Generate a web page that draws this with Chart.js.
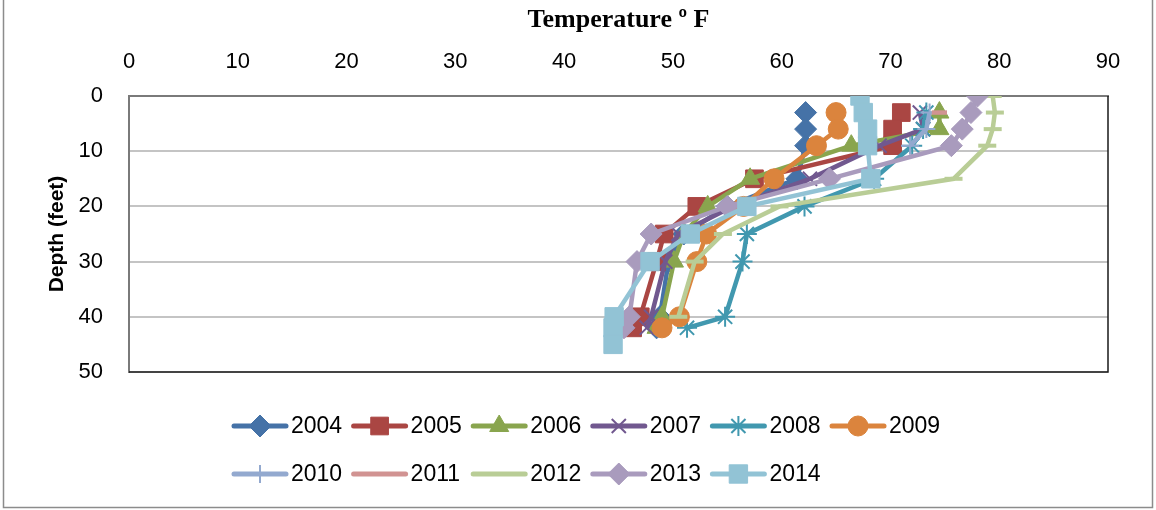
<!DOCTYPE html>
<html>
<head>
<meta charset="utf-8">
<script src="https://cdn.jsdelivr.net/npm/chart.js@4.4.1/dist/chart.umd.min.js"></script>
<style>
  html, body { margin: 0; padding: 0; background: #fff; }
  #wrap { width: 1156px; height: 510px; }
</style>
</head>
<body>
<div id="wrap"><canvas id="depthChart" width="1156" height="510"></canvas></div>
<script>
'use strict';
// temperature (deg F) readings at each depth (feet), one pair of lists per year
const years = ['2004', '2005', '2006', '2007', '2008', '2009', '2010', '2011', '2012', '2013', '2014'];

const depths2004 = [3, 6, 9, 15, 20, 25, 30, 40, 42];
const temps2004 = [62.2, 62.2, 62.2, 61.4, 55, 51, 49.6, 48.8, 48.5];
const depths2005 = [3, 6, 9, 15, 20, 25, 30, 40, 42];
const temps2005 = [71, 70.2, 70.2, 57.5, 52.2, 49.2, 48.5, 47, 46.3];
const depths2006 = [3, 6, 9, 15, 20, 25, 30, 40, 42];
const temps2006 = [74.5, 74.5, 66.4, 57.1, 53.2, 51, 50.1, 49, 48.5];
const depths2007 = [3, 6, 9, 15, 20, 25, 30, 40, 42];
const temps2007 = [72.7, 73, 69, 62.6, 55.5, 50.5, 49.3, 48, 47.6];
const depths2008 = [3, 6, 9, 15, 20, 25, 30, 40, 42];
const temps2008 = [73.3, 73, 72, 68.5, 62.1, 56.8, 56.4, 54.8, 51.3];
const depths2009 = [3, 6, 9, 15, 20, 25, 30, 40, 42];
const temps2009 = [65, 65.2, 63.2, 59.3, 56.5, 53.1, 52.2, 50.6, 49];
const depths2010 = [3, 6, 9];
const temps2010 = [73.6, 73.3, 71.8];
const depths2011 = [3, 3];
const temps2011 = [73.8, 75.2];
const depths2012 = [0, 3, 6, 9, 15, 20, 25, 30, 40];
const temps2012 = [79.4, 79.6, 79.4, 78.9, 75.8, 59.8, 54.6, 52, 50.5];
const depths2013 = [0, 3, 6, 9, 15, 20, 25, 30, 40, 42];
const temps2013 = [78, 77.4, 76.6, 75.6, 64.4, 55, 48, 46.7, 46, 45.5];
const depths2014 = [0, 3, 6, 9, 15, 20, 25, 30, 40, 42, 45];
const temps2014 = [67.2, 67.5, 67.9, 67.9, 68.2, 56.8, 51.6, 47.9, 44.6, 44.5, 44.5];

const xTicks = [0, 10, 20, 30, 40, 50, 60, 70, 80, 90];
const yTicks = [0, 10, 20, 30, 40, 50];

const allDepths = [depths2004, depths2005, depths2006, depths2007, depths2008, depths2009,
  depths2010, depths2011, depths2012, depths2013, depths2014];
const allTemps = [temps2004, temps2005, temps2006, temps2007, temps2008, temps2009,
  temps2010, temps2011, temps2012, temps2013, temps2014];

// excel 2007 style colours + markers
const colors = ['#4572A7', '#AA4643', '#89A54E', '#71588F', '#4198AF', '#DB843D',
  '#93A9CF', '#D19392', '#B9CD96', '#A99BBD', '#92C3D5'];
const markers = ['rectRot', 'rect', 'triangle', 'crossRot', 'star', 'circle',
  'cross', false, 'line', 'rectRot', 'rect'];
const radii = [11, 12.5, 11, 10, 10, 10, 9, 0, 9, 11, 13];
const markerBorder = [1, 1, 1, 2, 2, 1, 2, 0, 4, 1, 1];

const datasets = years.map((yr, i) => ({
  label: yr,
  data: allDepths[i].map((d, j) => ({x: allTemps[i][j], y: d})),
  showLine: true,
  borderColor: colors[i],
  backgroundColor: colors[i],
  borderWidth: 4.5,
  pointStyle: markers[i],
  pointRadius: radii[i],
  pointBorderWidth: markerBorder[i],
  pointBorderColor: colors[i],
  pointBackgroundColor: colors[i],
  order: years.length - i,
}));

const TICK_FONT = {family: '"Liberation Sans", Arial, sans-serif', size: 22};

const framePlugin = {
  id: 'frame',
  beforeDraw(chart) {
    const {ctx, width, height} = chart;
    ctx.save();
    ctx.fillStyle = '#fff';
    ctx.fillRect(0, 0, width, height);
    ctx.strokeStyle = '#8c8c8c';
    ctx.lineWidth = 1.5;
    ctx.strokeRect(3.5, -5, width - 7, height - 2.5 + 5);
    ctx.restore();
  },
  afterDatasetsDraw(chart) {
    const {ctx, chartArea: a} = chart;
    ctx.save();
    ctx.strokeStyle = '#1a1a1a';
    ctx.lineWidth = 1.5;
    ctx.beginPath();
    ctx.moveTo(a.left, a.bottom);
    ctx.lineTo(a.right, a.bottom);
    ctx.lineTo(a.right, a.top);
    ctx.stroke();
    ctx.restore();
  },
  afterDraw(chart) {
    // legend: two rows, line sample with marker then year
    const {ctx} = chart;
    const startX = 232, pitch = 119.6, lineLen = 56;
    const rowsY = [426, 474];
    ctx.save();
    chart.data.datasets.forEach((ds, i) => {
      const row = i < 6 ? 0 : 1;
      const col = i < 6 ? i : i - 6;
      const x0 = startX + col * pitch;
      const y = rowsY[row];
      ctx.strokeStyle = ds.borderColor;
      ctx.lineWidth = 5;
      ctx.lineCap = 'round';
      ctx.beginPath();
      ctx.moveTo(x0 + 2, y);
      ctx.lineTo(x0 + lineLen - 2, y);
      ctx.stroke();
      if (ds.pointStyle && ds.pointStyle !== 'line') {
        ctx.fillStyle = ds.borderColor;
        ctx.strokeStyle = ds.borderColor;
        ctx.lineWidth = ds.pointBorderWidth;
        ctx.lineCap = 'butt';
        const opts = {pointStyle: ds.pointStyle, radius: ds.pointRadius, rotation: 0,
          borderWidth: ds.pointBorderWidth};
        if (Chart.helpers && Chart.helpers.drawPoint) {
          Chart.helpers.drawPoint(ctx, opts, x0 + lineLen / 2, y);
        }
      }
      ctx.fillStyle = '#000';
      ctx.font = '23px "Liberation Sans", Arial, sans-serif';
      ctx.textBaseline = 'middle';
      ctx.textAlign = 'left';
      ctx.fillText(ds.label, x0 + lineLen + 3, y + 1);
    });
    ctx.restore();
  },
};

const ctx = document.getElementById('depthChart');
const depthChart = new Chart(ctx, {
  type: 'scatter',
  data: {datasets},
  plugins: [framePlugin],
  options: {
    responsive: false,
    animation: false,
    layout: {padding: {left: 41, right: 48, top: 1, bottom: 138}},
    plugins: {
      legend: {display: false},
      tooltip: {enabled: false},
    },
    scales: {
      x: {
        type: 'linear',
        position: 'top',
        min: 0,
        max: 90,
        afterBuildTicks: (s) => { s.ticks = xTicks.map((v) => ({value: v})); },
        afterFit: (s) => { s.height = 95; },
        grid: {display: false, drawTicks: false},
        border: {display: true, color: '#7a7a7a', width: 2},
        ticks: {color: '#000', font: TICK_FONT, padding: 21, maxRotation: 0},
        title: {
          display: true,
          text: 'Temperature º F',
          color: '#000',
          font: {family: '"Liberation Serif", "Times New Roman", serif', size: 26, weight: 'bold'},
          padding: {top: 4, bottom: 4},
        },
      },
      y: {
        type: 'linear',
        reverse: true,
        min: 0,
        max: 50,
        afterBuildTicks: (s) => { s.ticks = yTicks.map((v) => ({value: v})); },
        afterFit: (s) => { s.width = 88; },
        grid: {color: '#c4c4c4', lineWidth: 2, drawTicks: false},
        border: {display: true, color: '#7a7a7a', width: 2},
        ticks: {color: '#000', font: TICK_FONT, padding: 26},
        title: {
          display: true,
          text: 'Depth (feet)',
          color: '#000',
          font: {family: '"Liberation Sans", Arial, sans-serif', size: 21, weight: 'bold'},
          padding: {top: 4, bottom: 4},
        },
      },
    },
  },
});
</script>
</body>
</html>
